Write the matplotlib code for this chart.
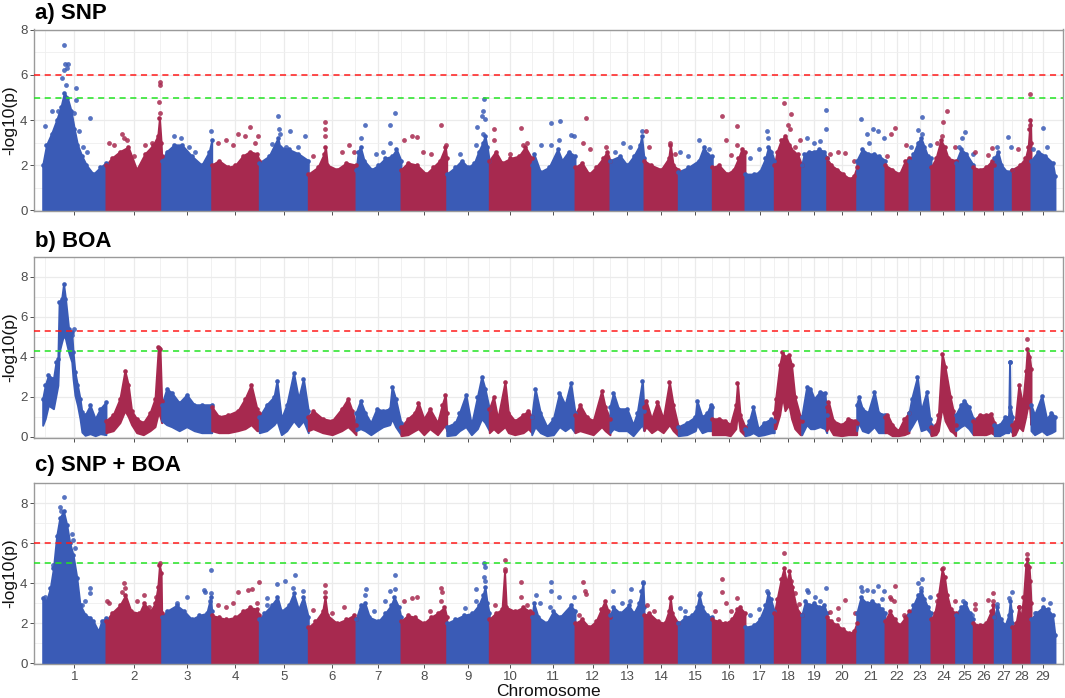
import numpy as np
import matplotlib
matplotlib.use("Agg")
import matplotlib.pyplot as plt

plt.rcParams['font.family'] = ['Liberation Sans', 'DejaVu Sans']

# chromosome lengths (Mb) as they appear on the x axis
chrom_len = [155.6, 137.0, 123.0, 117.0, 120.5, 117.3, 110.6, 112.4, 104.7, 104.3,
             106.5, 86.0, 83.6, 84.3, 83.6, 80.4, 72.0, 67.4, 61.5, 73.8,
             69.6, 59.0, 54.0, 60.7, 43.3, 51.6, 44.3, 46.0, 59.0]
chrom_names = [str(i) for i in range(1, 30)]

# --- a) SNP : upper edge of the dense cloud (chr, relative pos, -log10 p)
snp_top = [
    (1, 0.0, 2.0), (1, 0.06, 2.9), (1, 0.14, 3.4), (1, 0.22, 4.0), (1, 0.29, 4.6), (1, 0.34, 5.2),
    (1, 0.39, 5.0), (1, 0.45, 4.4), (1, 0.50, 3.6), (1, 0.55, 2.9), (1, 0.62, 2.4), (1, 0.69, 2.0),
    (1, 0.80, 1.6), (1, 0.91, 1.9), (1, 1.0, 2.1),
    (2, 0.0, 2.0), (2, 0.1, 2.3), (2, 0.25, 2.6), (2, 0.4, 2.8), (2, 0.55, 1.8), (2, 0.7, 2.5),
    (2, 0.85, 2.9), (2, 0.93, 3.3), (2, 0.96, 4.1), (2, 0.99, 3.0), (2, 1.0, 2.4),
    (3, 0.0, 2.2), (3, 0.1, 2.6), (3, 0.25, 2.9), (3, 0.4, 2.9), (3, 0.6, 2.4), (3, 0.8, 2.0),
    (3, 0.95, 2.6), (3, 1.0, 3.1),
    (4, 0.0, 2.0), (4, 0.15, 2.2), (4, 0.35, 1.9), (4, 0.5, 2.0), (4, 0.65, 2.4), (4, 0.8, 2.6),
    (4, 0.95, 2.5), (4, 1.0, 2.2),
    (5, 0.0, 2.1), (5, 0.2, 2.4), (5, 0.38, 3.2), (5, 0.42, 2.8), (5, 0.6, 2.7), (5, 0.8, 2.5),
    (5, 1.0, 2.2),
    (6, 0.0, 1.6), (6, 0.2, 1.9), (6, 0.33, 2.5), (6, 0.36, 2.8), (6, 0.4, 2.0), (6, 0.6, 1.8),
    (6, 0.8, 2.1), (6, 1.0, 2.0),
    (7, 0.0, 1.8), (7, 0.05, 2.6), (7, 0.1, 2.8), (7, 0.18, 2.2), (7, 0.35, 1.8), (7, 0.5, 2.0),
    (7, 0.65, 2.3), (7, 0.8, 2.4), (7, 0.9, 2.7), (7, 1.0, 2.2),
    (8, 0.0, 1.8), (8, 0.15, 2.1), (8, 0.35, 2.0), (8, 0.55, 1.6), (8, 0.7, 1.9), (8, 0.85, 2.2),
    (8, 0.97, 2.8), (8, 1.0, 2.3),
    (9, 0.0, 1.6), (9, 0.2, 1.9), (9, 0.35, 2.2), (9, 0.5, 1.9), (9, 0.65, 2.1), (9, 0.75, 2.6),
    (9, 0.85, 3.0), (9, 0.9, 3.3), (9, 0.95, 2.8), (9, 1.0, 2.2),
    (10, 0.0, 2.2), (10, 0.15, 2.6), (10, 0.3, 2.1), (10, 0.5, 2.3), (10, 0.7, 2.4), (10, 0.85, 2.8),
    (10, 1.0, 2.3),
    (11, 0.0, 2.0), (11, 0.05, 2.5), (11, 0.2, 1.7), (11, 0.4, 1.9), (11, 0.6, 2.7), (11, 0.7, 2.2),
    (11, 0.85, 2.6), (11, 1.0, 2.4),
    (12, 0.0, 1.9), (12, 0.2, 2.1), (12, 0.4, 1.6), (12, 0.6, 1.9), (12, 0.8, 2.3), (12, 0.92, 2.6),
    (12, 1.0, 2.2),
    (13, 0.0, 2.2), (13, 0.3, 2.4), (13, 0.5, 2.0), (13, 0.7, 2.4), (13, 0.88, 2.9), (13, 0.93, 3.3),
    (13, 1.0, 2.3),
    (14, 0.0, 2.2), (14, 0.2, 2.0), (14, 0.5, 1.8), (14, 0.72, 2.3), (14, 0.77, 2.9), (14, 0.85, 2.0),
    (14, 1.0, 1.8),
    (15, 0.0, 1.7), (15, 0.3, 1.9), (15, 0.6, 2.2), (15, 0.75, 2.8), (15, 0.85, 2.5), (15, 1.0, 2.4),
    (16, 0.0, 1.9), (16, 0.2, 2.0), (16, 0.45, 1.6), (16, 0.65, 1.8), (16, 0.8, 2.3), (16, 0.9, 2.7),
    (16, 1.0, 2.6),
    (17, 0.0, 1.6), (17, 0.3, 1.6), (17, 0.5, 1.7), (17, 0.7, 2.3), (17, 0.8, 2.8), (17, 0.9, 2.6),
    (17, 1.0, 2.2),
    (18, 0.0, 2.0), (18, 0.1, 2.6), (18, 0.25, 3.1), (18, 0.4, 3.3), (18, 0.55, 2.9), (18, 0.7, 2.6),
    (18, 0.85, 2.5), (18, 1.0, 2.0),
    (19, 0.0, 2.0), (19, 0.1, 2.5), (19, 0.3, 2.6), (19, 0.5, 2.6), (19, 0.7, 2.7), (19, 0.9, 2.6),
    (19, 1.0, 2.3),
    (20, 0.0, 2.3), (20, 0.15, 2.0), (20, 0.35, 1.8), (20, 0.55, 1.6), (20, 0.75, 1.4), (20, 0.9, 1.5),
    (20, 1.0, 1.9),
    (21, 0.0, 2.2), (21, 0.2, 2.7), (21, 0.4, 2.5), (21, 0.6, 2.5), (21, 0.8, 2.4), (21, 1.0, 2.2),
    (22, 0.0, 2.0), (22, 0.3, 1.8), (22, 0.6, 1.6), (22, 0.85, 2.2), (22, 1.0, 2.3),
    (23, 0.0, 2.2), (23, 0.2, 2.5), (23, 0.4, 3.0), (23, 0.55, 3.2), (23, 0.7, 2.8), (23, 0.85, 2.4),
    (23, 1.0, 2.3),
    (24, 0.0, 1.9), (24, 0.2, 2.3), (24, 0.4, 3.1), (24, 0.55, 2.8), (24, 0.7, 2.3), (24, 1.0, 2.2),
    (25, 0.0, 2.1), (25, 0.3, 2.7), (25, 0.6, 2.5), (25, 1.0, 2.0),
    (26, 0.0, 1.9), (26, 0.3, 1.8), (26, 0.6, 1.9), (26, 0.9, 2.2), (26, 1.0, 2.0),
    (27, 0.0, 2.3), (27, 0.2, 2.6), (27, 0.4, 2.0), (27, 0.7, 1.7), (27, 1.0, 1.8),
    (28, 0.0, 1.8), (28, 0.4, 2.0), (28, 0.7, 2.3), (28, 0.85, 2.8), (28, 0.92, 3.6), (28, 0.97, 4.0),
    (28, 1.0, 3.0),
    (29, 0.0, 2.2), (29, 0.3, 2.6), (29, 0.6, 2.4), (29, 0.9, 2.1), (29, 1.0, 1.5),
]

# single markers standing out above the cloud
snp_hits = [
    (1, 0.03, 3.75), (1, 0.14, 4.4), (1, 0.24, 4.4), (1, 0.33, 7.35), (1, 0.36, 6.5), (1, 0.40, 6.5),
    (1, 0.33, 6.2), (1, 0.38, 6.3), (1, 0.30, 5.85), (1, 0.37, 5.55), (1, 0.52, 5.4), (1, 0.52, 4.9),
    (1, 0.50, 4.3), (1, 0.75, 4.1), (1, 0.58, 3.5), (1, 0.63, 2.8), (1, 0.70, 2.6),
    (2, 0.06, 3.0), (2, 0.15, 2.9), (2, 0.28, 3.4), (2, 0.32, 3.2), (2, 0.38, 3.1), (2, 0.5, 2.4),
    (2, 0.7, 2.9), (2, 0.83, 3.0), (2, 0.97, 5.7), (2, 0.97, 5.55), (2, 0.96, 4.8), (2, 0.97, 4.3),
    (3, 0.24, 3.3), (3, 0.38, 3.2), (3, 0.55, 2.8), (3, 0.66, 2.6), (3, 0.99, 3.5),
    (4, 0.14, 3.0), (4, 0.3, 3.1), (4, 0.56, 3.4), (4, 0.8, 3.7), (4, 0.7, 3.3), (4, 0.97, 3.3),
    (4, 0.45, 2.9), (4, 0.9, 3.0),
    (5, 0.39, 4.2), (5, 0.41, 3.6), (5, 0.42, 3.4), (5, 0.63, 3.5), (5, 0.93, 3.3), (5, 0.25, 2.95),
    (5, 0.55, 2.8), (5, 0.78, 2.8),
    (6, 0.35, 3.9), (6, 0.35, 3.6), (6, 0.35, 3.3), (6, 0.1, 2.4), (6, 0.7, 2.6), (6, 0.85, 2.9),
    (6, 0.95, 2.6),
    (7, 0.1, 3.2), (7, 0.2, 3.8), (7, 0.76, 3.8), (7, 0.87, 4.3), (7, 0.76, 3.0), (7, 0.6, 2.6),
    (7, 0.45, 2.5),
    (8, 0.07, 3.1), (8, 0.24, 3.3), (8, 0.35, 3.25), (8, 0.87, 3.8), (8, 0.49, 2.6), (8, 0.65, 2.5),
    (8, 0.98, 2.9),
    (9, 0.88, 4.95), (9, 0.86, 4.4), (9, 0.82, 4.2), (9, 0.9, 4.05), (9, 0.86, 3.4), (9, 0.7, 3.7),
    (9, 0.69, 2.9), (9, 0.31, 2.5),
    (10, 0.12, 3.6), (10, 0.75, 3.65), (10, 0.1, 3.1), (10, 0.9, 3.0), (10, 0.8, 2.9), (10, 0.5, 2.5),
    (11, 0.45, 3.85), (11, 0.65, 3.95), (11, 0.64, 3.1), (11, 0.9, 3.35), (11, 0.98, 3.3),
    (11, 0.22, 2.9), (11, 0.45, 2.9),
    (12, 0.3, 4.1), (12, 0.24, 3.0), (12, 0.43, 2.7), (12, 0.88, 2.8),
    (13, 0.95, 3.5), (13, 0.37, 3.0), (13, 0.6, 2.8), (13, 0.15, 2.6),
    (14, 0.06, 3.5), (14, 0.76, 3.0), (14, 0.15, 2.8), (14, 0.9, 2.5),
    (15, 0.62, 3.1), (15, 0.05, 2.6), (15, 0.3, 2.4), (15, 0.9, 2.7),
    (16, 0.31, 4.2), (16, 0.41, 3.1), (16, 0.77, 3.75), (16, 0.77, 2.9), (16, 0.57, 2.45),
    (17, 0.76, 3.5), (17, 0.77, 3.2), (17, 0.48, 2.7), (17, 0.17, 2.3),
    (18, 0.34, 4.75), (18, 0.6, 4.25), (18, 0.49, 3.8), (18, 0.57, 3.6), (18, 0.39, 3.1),
    (18, 0.94, 3.1), (18, 0.75, 2.8),
    (19, 0.97, 4.45), (19, 0.99, 3.6), (19, 0.2, 3.2), (19, 0.5, 3.0), (19, 0.75, 3.05),
    (20, 0.37, 2.6), (20, 0.6, 2.55), (20, 0.1, 2.5), (20, 0.9, 2.2),
    (21, 0.15, 4.05), (21, 0.38, 3.4), (21, 0.59, 3.6), (21, 0.75, 3.5), (21, 0.95, 3.2), (21, 0.45, 3.0),
    (22, 0.4, 3.63), (22, 0.25, 3.4), (22, 0.1, 2.4), (22, 0.88, 2.9),
    (23, 0.57, 4.15), (23, 0.42, 3.55), (23, 0.58, 3.4), (23, 0.95, 2.9), (23, 0.1, 2.8),
    (24, 0.64, 4.4), (24, 0.5, 3.9), (24, 0.43, 3.3), (24, 0.23, 3.0), (24, 0.97, 2.8),
    (25, 0.53, 3.45), (25, 0.34, 3.2), (25, 0.19, 2.8), (25, 0.96, 2.5),
    (26, 0.08, 2.6), (26, 0.72, 2.45), (26, 0.9, 2.75),
    (27, 0.78, 3.25), (27, 0.14, 2.8), (27, 0.95, 2.8),
    (28, 0.96, 5.15), (28, 0.33, 2.7), (28, 0.96, 3.8),
    (29, 0.52, 3.65), (29, 0.65, 2.8), (29, 0.1, 2.7),
]

# --- b) BOA : lower and upper edge of the cloud (chr, relative pos, low, high)
boa_band = [
    (1, 0.0, 0.57, 1.9), (1, 0.04, 0.9, 2.57), (1, 0.09, 1.57, 3.07), (1, 0.17, 1.4, 2.9),
    (1, 0.21, 2.07, 3.73), (1, 0.24, 2.57, 3.9), (1, 0.26, 4.23, 6.73), (1, 0.30, 4.73, 6.9),
    (1, 0.33, 5.07, 7.65), (1, 0.36, 4.9, 6.9), (1, 0.41, 4.23, 5.4), (1, 0.46, 3.73, 5.23),
    (1, 0.48, 2.9, 4.23), (1, 0.51, 2.07, 3.23), (1, 0.55, 1.57, 2.57), (1, 0.59, 0.9, 1.9),
    (1, 0.62, 0.23, 1.23), (1, 0.67, 0.07, 1.07), (1, 0.75, 0.15, 1.57), (1, 0.83, 0.05, 0.9),
    (1, 0.91, 0.15, 1.4), (1, 1.0, 0.1, 1.73),
    (2, 0.0, 0.2, 0.8), (2, 0.13, 0.3, 1.1), (2, 0.25, 0.7, 1.9), (2, 0.34, 1.3, 3.3), (2, 0.4, 1.0, 2.6),
    (2, 0.46, 0.6, 1.3), (2, 0.55, 0.2, 0.9), (2, 0.67, 0.1, 0.7), (2, 0.79, 0.3, 1.2), (2, 0.88, 0.5, 1.9),
    (2, 0.94, 1.2, 4.5), (2, 0.97, 1.0, 4.4), (2, 1.0, 0.7, 1.8),
    (3, 0.0, 0.8, 1.6), (3, 0.1, 0.6, 2.4), (3, 0.2, 0.5, 2.2), (3, 0.35, 0.3, 1.7), (3, 0.5, 0.5, 2.1),
    (3, 0.65, 0.3, 1.6), (3, 0.8, 0.2, 1.6), (3, 1.0, 0.2, 1.6),
    (4, 0.0, 0.3, 1.5), (4, 0.15, 0.2, 1.0), (4, 0.35, 0.2, 1.1), (4, 0.55, 0.3, 1.3), (4, 0.7, 0.4, 1.9),
    (4, 0.83, 0.6, 2.6), (4, 0.95, 0.3, 1.4), (4, 1.0, 0.3, 1.2),
    (5, 0.0, 0.2, 1.0), (5, 0.15, 0.3, 1.6), (5, 0.3, 0.6, 2.0), (5, 0.36, 0.8, 2.8), (5, 0.45, 0.1, 0.9),
    (5, 0.56, 0.3, 1.6), (5, 0.7, 0.8, 3.2), (5, 0.8, 0.5, 1.9), (5, 0.9, 0.8, 2.9), (5, 1.0, 0.2, 1.3),
    (6, 0.0, 0.3, 1.0), (6, 0.1, 0.4, 1.3), (6, 0.3, 0.2, 0.9), (6, 0.5, 0.1, 0.8), (6, 0.7, 0.3, 1.4),
    (6, 0.83, 0.5, 1.9), (6, 0.92, 0.3, 1.3), (6, 1.0, 0.1, 0.6),
    (7, 0.0, 0.3, 1.2), (7, 0.1, 0.4, 1.8), (7, 0.2, 0.3, 1.2), (7, 0.33, 0.1, 0.7), (7, 0.46, 0.3, 1.4),
    (7, 0.6, 0.5, 1.3), (7, 0.75, 0.6, 1.4), (7, 0.8, 0.9, 2.5), (7, 0.88, 0.5, 1.9), (7, 1.0, 0.1, 0.7),
    (8, 0.0, 0.05, 0.5), (8, 0.15, 0.1, 0.9), (8, 0.3, 0.3, 1.2), (8, 0.38, 0.4, 1.7), (8, 0.5, 0.1, 0.9),
    (8, 0.63, 0.4, 1.4), (8, 0.8, 0.1, 0.7), (8, 0.9, 0.4, 1.6), (8, 0.97, 0.6, 2.1), (8, 1.0, 0.3, 1.2),
    (9, 0.0, 0.05, 0.5), (9, 0.2, 0.1, 0.7), (9, 0.3, 0.3, 1.2), (9, 0.45, 0.5, 2.1), (9, 0.58, 0.1, 0.6),
    (9, 0.72, 0.4, 2.0), (9, 0.82, 0.9, 3.0), (9, 0.9, 0.7, 2.4), (9, 1.0, 0.3, 1.4),
    (10, 0.0, 0.2, 1.4), (10, 0.1, 0.4, 2.0), (10, 0.2, 0.2, 0.9), (10, 0.37, 0.5, 2.75), (10, 0.45, 0.2, 1.2),
    (10, 0.6, 0.1, 0.8), (10, 0.8, 0.2, 1.1), (10, 0.92, 0.4, 1.3), (10, 1.0, 0.2, 1.0),
    (11, 0.0, 0.1, 1.0), (11, 0.08, 0.5, 2.4), (11, 0.2, 0.2, 1.2), (11, 0.35, 0.05, 0.5), (11, 0.5, 0.1, 0.9),
    (11, 0.64, 0.5, 2.2), (11, 0.77, 0.3, 1.6), (11, 0.9, 0.5, 2.7), (11, 1.0, 0.2, 1.2),
    (12, 0.0, 0.2, 1.1), (12, 0.14, 0.3, 1.6), (12, 0.33, 0.2, 1.0), (12, 0.52, 0.1, 0.8), (12, 0.76, 0.5, 2.3),
    (12, 0.86, 0.3, 1.5), (12, 1.0, 0.1, 0.9),
    (13, 0.0, 0.2, 1.5), (13, 0.1, 0.4, 2.2), (13, 0.25, 0.3, 1.4), (13, 0.5, 0.3, 1.4), (13, 0.68, 0.05, 0.6),
    (13, 0.8, 0.3, 1.2), (13, 0.95, 0.6, 2.8), (13, 1.0, 0.3, 1.3),
    (14, 0.0, 0.3, 1.5), (14, 0.06, 0.5, 1.8), (14, 0.22, 0.2, 0.9), (14, 0.39, 0.4, 1.75), (14, 0.56, 0.2, 0.9),
    (14, 0.74, 0.6, 2.75), (14, 0.85, 0.3, 1.6), (14, 1.0, 0.05, 0.5),
    (15, 0.0, 0.05, 0.5), (15, 0.25, 0.1, 0.7), (15, 0.5, 0.3, 1.0), (15, 0.55, 0.6, 1.8), (15, 0.7, 0.2, 1.0),
    (15, 0.85, 0.3, 1.2), (15, 0.95, 0.3, 1.6), (15, 1.0, 0.3, 1.5),
    (16, 0.0, 0.1, 0.9), (16, 0.2, 0.1, 0.9), (16, 0.4, 0.1, 0.8), (16, 0.55, 0.05, 0.6), (16, 0.72, 0.4, 1.6),
    (16, 0.77, 1.2, 2.7), (16, 0.85, 0.3, 1.1), (16, 1.0, 0.05, 0.5),
    (17, 0.0, 0.05, 0.4), (17, 0.15, 0.1, 0.8), (17, 0.28, 0.2, 1.5), (17, 0.45, 0.05, 0.4), (17, 0.65, 0.1, 0.7),
    (17, 0.9, 0.2, 0.9), (17, 1.0, 0.2, 0.8),
    (18, 0.0, 0.4, 1.2), (18, 0.05, 0.4, 1.9), (18, 0.2, 1.1, 3.6), (18, 0.3, 2.0, 4.25), (18, 0.39, 1.3, 4.0),
    (18, 0.53, 1.6, 4.1), (18, 0.63, 0.9, 3.6), (18, 0.75, 0.4, 2.0), (18, 0.95, 0.1, 1.0), (18, 1.0, 0.1, 0.8),
    (19, 0.0, 0.1, 1.0), (19, 0.2, 0.6, 2.5), (19, 0.35, 0.4, 2.4), (19, 0.5, 0.4, 1.9), (19, 0.73, 0.5, 2.25),
    (19, 0.93, 0.4, 2.2), (19, 1.0, 0.2, 1.1),
    (20, 0.0, 0.3, 1.5), (20, 0.06, 0.5, 1.75), (20, 0.22, 0.1, 0.8), (20, 0.5, 0.05, 0.6), (20, 0.72, 0.1, 0.9),
    (20, 0.95, 0.1, 0.8), (20, 1.0, 0.1, 0.7),
    (21, 0.0, 0.3, 1.6), (21, 0.07, 0.7, 2.0), (21, 0.2, 0.3, 1.4), (21, 0.4, 0.2, 1.2), (21, 0.62, 0.5, 2.25),
    (21, 0.77, 0.2, 1.2), (21, 1.0, 0.2, 1.1),
    (22, 0.0, 0.2, 1.0), (22, 0.1, 0.2, 1.1), (22, 0.3, 0.05, 0.6), (22, 0.55, 0.05, 0.3), (22, 0.8, 0.1, 0.9),
    (22, 1.0, 0.2, 1.2),
    (23, 0.0, 0.3, 1.2), (23, 0.12, 0.5, 1.9), (23, 0.38, 1.0, 3.0), (23, 0.55, 0.3, 1.3), (23, 0.8, 0.4, 2.25),
    (23, 0.95, 0.2, 0.9), (23, 1.0, 0.1, 0.6),
    (24, 0.0, 0.05, 0.5), (24, 0.2, 0.1, 0.6), (24, 0.3, 0.3, 1.1), (24, 0.45, 1.5, 4.15), (24, 0.57, 0.8, 3.5),
    (24, 0.78, 0.3, 2.0), (24, 0.9, 0.2, 1.3), (24, 1.0, 0.05, 0.6),
    (25, 0.0, 0.3, 1.1), (25, 0.3, 0.5, 1.6), (25, 0.5, 0.6, 1.8), (25, 0.75, 0.4, 1.5), (25, 1.0, 0.1, 0.9),
    (26, 0.0, 0.1, 0.8), (26, 0.3, 0.1, 1.1), (26, 0.6, 0.1, 1.1), (26, 0.85, 0.2, 1.15), (26, 1.0, 0.1, 0.7),
    (27, 0.0, 0.05, 0.6), (27, 0.3, 0.05, 0.6), (27, 0.6, 0.2, 1.0), (27, 0.8, 0.2, 1.0), (27, 0.85, 1.4, 3.75),
    (27, 0.88, 0.3, 1.5), (27, 1.0, 0.2, 1.0),
    (28, 0.0, 0.05, 0.6), (28, 0.15, 0.1, 0.75), (28, 0.35, 0.5, 2.6), (28, 0.55, 0.3, 1.6), (28, 0.72, 1.0, 3.3),
    (28, 0.8, 1.4, 4.4), (28, 0.92, 1.5, 4.0), (28, 1.0, 0.6, 3.4),
    (29, 0.0, 0.3, 1.6), (29, 0.15, 0.1, 1.1), (29, 0.45, 0.3, 2.05), (29, 0.65, 0.1, 0.9), (29, 0.85, 0.2, 1.2),
    (29, 1.0, 0.3, 1.0),
]
boa_hits = [(1, 0.49, 5.4), (1, 0.47, 5.1), (2, 0.95, 4.45), (27, 0.86, 3.75), (28, 0.77, 4.88)]

# --- c) SNP + BOA
comb_top = [
    (1, 0.0, 3.27), (1, 0.06, 3.1), (1, 0.12, 3.77), (1, 0.17, 4.77), (1, 0.22, 6.35), (1, 0.27, 7.27),
    (1, 0.33, 7.6), (1, 0.38, 6.93), (1, 0.43, 6.0), (1, 0.48, 5.43), (1, 0.54, 4.27), (1, 0.59, 2.93),
    (1, 0.67, 2.43), (1, 0.75, 2.27), (1, 0.80, 2.1), (1, 0.88, 1.6), (1, 0.93, 2.1), (1, 1.0, 2.27),
    (2, 0.0, 2.1), (2, 0.1, 2.5), (2, 0.25, 2.9), (2, 0.35, 3.4), (2, 0.45, 2.6), (2, 0.6, 2.5),
    (2, 0.68, 3.0), (2, 0.8, 2.6), (2, 0.88, 3.0), (2, 0.93, 3.8), (2, 0.96, 4.9), (2, 0.99, 4.5),
    (2, 1.0, 2.5),
    (3, 0.0, 2.3), (3, 0.1, 2.6), (3, 0.3, 2.9), (3, 0.45, 2.6), (3, 0.6, 2.2), (3, 0.75, 2.4),
    (3, 0.9, 2.5), (3, 0.98, 3.3), (3, 1.0, 2.6),
    (4, 0.0, 2.4), (4, 0.15, 2.3), (4, 0.3, 2.2), (4, 0.5, 2.3), (4, 0.65, 2.6), (4, 0.8, 2.8),
    (4, 0.95, 2.7), (4, 1.0, 2.4),
    (5, 0.0, 2.2), (5, 0.1, 2.5), (5, 0.25, 2.9), (5, 0.37, 3.3), (5, 0.45, 2.6), (5, 0.6, 2.9),
    (5, 0.7, 3.5), (5, 0.8, 2.7), (5, 0.9, 3.3), (5, 1.0, 2.3),
    (6, 0.0, 1.8), (6, 0.15, 2.1), (6, 0.3, 2.6), (6, 0.35, 3.3), (6, 0.4, 2.4), (6, 0.6, 2.0),
    (6, 0.8, 2.2), (6, 0.95, 2.4), (6, 1.0, 2.2),
    (7, 0.0, 2.2), (7, 0.1, 2.9), (7, 0.2, 3.0), (7, 0.3, 2.3), (7, 0.5, 2.1), (7, 0.65, 2.5),
    (7, 0.78, 2.9), (7, 0.85, 3.3), (7, 0.95, 2.8), (7, 1.0, 2.3),
    (8, 0.0, 2.1), (8, 0.15, 2.4), (8, 0.3, 2.3), (8, 0.5, 2.0), (8, 0.65, 2.3), (8, 0.8, 2.5),
    (8, 0.95, 2.8), (8, 1.0, 2.3),
    (9, 0.0, 2.0), (9, 0.2, 2.2), (9, 0.4, 2.4), (9, 0.6, 2.5), (9, 0.75, 2.9), (9, 0.85, 3.4),
    (9, 0.9, 3.8), (9, 0.95, 3.0), (9, 1.0, 2.5),
    (10, 0.0, 2.2), (10, 0.15, 2.5), (10, 0.3, 2.7), (10, 0.36, 4.6), (10, 0.4, 2.8), (10, 0.6, 2.6),
    (10, 0.8, 2.8), (10, 0.95, 2.6), (10, 1.0, 2.5),
    (11, 0.0, 2.3), (11, 0.05, 3.0), (11, 0.15, 2.3), (11, 0.35, 2.0), (11, 0.5, 2.6), (11, 0.65, 2.3),
    (11, 0.9, 2.9), (11, 1.0, 2.6),
    (12, 0.0, 2.0), (12, 0.2, 2.2), (12, 0.4, 1.8), (12, 0.6, 2.1), (12, 0.75, 2.7), (12, 0.85, 3.1),
    (12, 0.95, 2.6), (12, 1.0, 2.3),
    (13, 0.0, 2.4), (13, 0.1, 2.8), (13, 0.3, 2.5), (13, 0.55, 2.9), (13, 0.7, 2.5), (13, 0.85, 3.0),
    (13, 0.92, 3.6), (13, 0.97, 4.0), (13, 1.0, 2.8),
    (14, 0.0, 2.4), (14, 0.15, 2.5), (14, 0.4, 2.1), (14, 0.6, 2.0), (14, 0.72, 2.6), (14, 0.77, 3.25),
    (14, 0.82, 2.5), (14, 1.0, 2.0),
    (15, 0.0, 2.0), (15, 0.2, 2.3), (15, 0.4, 2.4), (15, 0.55, 2.8), (15, 0.62, 3.4), (15, 0.7, 2.8),
    (15, 0.85, 2.4), (15, 1.0, 2.3),
    (16, 0.0, 2.2), (16, 0.2, 2.1), (16, 0.4, 2.0), (16, 0.6, 2.2), (16, 0.75, 2.7), (16, 0.85, 2.8),
    (16, 1.0, 2.5),
    (17, 0.0, 1.8), (17, 0.3, 1.9), (17, 0.5, 2.2), (17, 0.7, 2.9), (17, 0.78, 3.5), (17, 0.88, 3.2),
    (17, 1.0, 2.6),
    (18, 0.0, 2.5), (18, 0.1, 3.2), (18, 0.25, 4.2), (18, 0.35, 4.75), (18, 0.45, 4.0), (18, 0.55, 4.6),
    (18, 0.65, 3.8), (18, 0.8, 2.8), (18, 1.0, 2.4),
    (19, 0.0, 2.4), (19, 0.15, 3.1), (19, 0.3, 2.9), (19, 0.5, 3.0), (19, 0.7, 2.8), (19, 0.9, 2.9),
    (19, 1.0, 2.5),
    (20, 0.0, 2.3), (20, 0.15, 2.1), (20, 0.35, 1.9), (20, 0.55, 1.7), (20, 0.75, 1.5), (20, 0.9, 1.6),
    (20, 1.0, 2.0),
    (21, 0.0, 2.5), (21, 0.15, 3.3), (21, 0.35, 3.0), (21, 0.55, 3.1), (21, 0.75, 2.9), (21, 0.9, 2.7),
    (21, 1.0, 2.5),
    (22, 0.0, 2.1), (22, 0.2, 2.6), (22, 0.4, 2.2), (22, 0.6, 1.9), (22, 0.85, 2.3), (22, 1.0, 2.6),
    (23, 0.0, 2.4), (23, 0.2, 2.9), (23, 0.4, 3.4), (23, 0.55, 3.6), (23, 0.7, 3.2), (23, 0.85, 2.8),
    (23, 1.0, 2.5),
    (24, 0.0, 2.2), (24, 0.15, 2.5), (24, 0.3, 3.4), (24, 0.45, 4.7), (24, 0.55, 4.3), (24, 0.65, 3.4),
    (24, 0.8, 2.7), (24, 1.0, 2.5),
    (25, 0.0, 2.4), (25, 0.3, 2.8), (25, 0.55, 3.0), (25, 0.8, 2.5), (25, 1.0, 2.2),
    (26, 0.0, 2.0), (26, 0.3, 1.9), (26, 0.6, 2.0), (26, 0.85, 2.6), (26, 0.95, 2.9), (26, 1.0, 2.3),
    (27, 0.0, 2.3), (27, 0.15, 2.8), (27, 0.35, 2.2), (27, 0.6, 1.9), (27, 0.8, 2.4), (27, 0.88, 3.1),
    (27, 0.95, 2.6), (27, 1.0, 2.0),
    (28, 0.0, 1.8), (28, 0.2, 2.0), (28, 0.35, 2.8), (28, 0.45, 2.2), (28, 0.6, 3.3), (28, 0.72, 4.9),
    (28, 0.8, 5.2), (28, 0.9, 4.8), (28, 0.95, 4.1), (28, 1.0, 3.0),
    (29, 0.0, 2.2), (29, 0.2, 2.5), (29, 0.5, 2.8), (29, 0.7, 2.7), (29, 0.9, 2.4), (29, 1.0, 1.4),
]
comb_hits = [
    (1, 0.34, 8.3), (1, 0.27, 7.8), (1, 0.29, 7.6), (1, 0.46, 6.47), (1, 0.48, 6.18), (1, 0.51, 5.77),
    (1, 0.75, 3.77), (1, 0.75, 3.5), (1, 0.67, 3.1), (1, 0.62, 2.9), (1, 0.04, 3.3), (1, 0.17, 4.9),
    (2, 0.02, 3.1), (2, 0.05, 3.0), (2, 0.33, 4.0), (2, 0.28, 3.55), (2, 0.35, 3.75), (2, 0.55, 3.1),
    (2, 0.68, 3.4), (2, 0.78, 2.8), (2, 0.9, 3.3), (2, 0.97, 5.0),
    (3, 0.3, 3.0), (3, 0.5, 3.3), (3, 0.85, 3.67), (3, 0.87, 3.55), (3, 0.99, 4.65), (3, 0.99, 3.5),
    (3, 0.97, 3.1),
    (4, 0.13, 2.9), (4, 0.3, 2.8), (4, 0.56, 3.55), (4, 0.77, 3.65), (4, 0.84, 3.7), (4, 0.99, 4.05),
    (4, 0.95, 3.0), (4, 0.45, 3.0),
    (5, 0.37, 3.95), (5, 0.52, 4.1), (5, 0.73, 4.4), (5, 0.69, 3.75), (5, 0.9, 3.6), (5, 0.16, 3.25),
    (5, 0.15, 2.9),
    (6, 0.35, 3.9), (6, 0.36, 3.55), (6, 0.1, 2.65), (6, 0.75, 2.8), (6, 0.5, 2.5),
    (7, 0.22, 3.7), (7, 0.2, 3.4), (7, 0.87, 4.4), (7, 0.76, 3.6), (7, 0.87, 3.7), (7, 0.65, 3.1),
    (7, 0.39, 2.6),
    (8, 0.07, 3.1), (8, 0.24, 3.25), (8, 0.35, 3.3), (8, 0.87, 3.75), (8, 0.89, 3.55), (8, 0.87, 3.1),
    (8, 0.63, 2.6),
    (9, 0.88, 5.0), (9, 0.89, 4.8), (9, 0.88, 4.3), (9, 0.9, 4.1), (9, 0.69, 3.7), (9, 0.69, 3.1),
    (9, 0.43, 2.75),
    (10, 0.37, 5.15), (10, 0.37, 4.7), (10, 0.75, 4.08), (10, 0.74, 3.3), (10, 0.13, 2.9), (10, 0.9, 2.9),
    (11, 0.45, 4.08), (11, 0.1, 3.4), (11, 0.45, 3.6), (11, 0.64, 3.3), (11, 0.2, 3.0), (11, 0.42, 2.8),
    (11, 0.98, 3.3),
    (12, 0.24, 4.08), (12, 0.29, 3.6), (12, 0.31, 3.45), (12, 0.12, 2.4),
    (13, 0.08, 3.6), (13, 0.61, 3.7), (13, 0.35, 3.0), (13, 0.6, 3.1), (13, 0.97, 4.08),
    (14, 0.1, 2.9), (14, 0.3, 2.6), (14, 0.78, 3.3),
    (15, 0.05, 2.75), (15, 0.63, 3.5), (15, 0.2, 2.6),
    (16, 0.31, 4.2), (16, 0.31, 3.55), (16, 0.41, 3.0), (16, 0.77, 3.25), (16, 0.57, 2.6), (16, 0.08, 2.6),
    (17, 0.48, 2.7), (17, 0.17, 2.4), (17, 0.76, 3.6),
    (18, 0.35, 5.53), (18, 0.6, 4.1), (18, 0.75, 3.5), (18, 0.92, 2.97),
    (19, 0.2, 3.67), (19, 0.27, 3.55), (19, 0.96, 3.75), (19, 0.73, 3.1), (19, 0.53, 3.3),
    (20, 0.37, 2.75), (20, 0.61, 3.15), (20, 0.11, 2.55), (20, 0.39, 2.2), (20, 0.95, 2.5),
    (21, 0.15, 3.83), (21, 0.18, 3.6), (21, 0.38, 3.67), (21, 0.76, 3.85), (21, 0.59, 3.6),
    (21, 0.97, 3.6), (21, 0.88, 3.2),
    (22, 0.42, 3.85), (22, 0.21, 3.3), (22, 0.25, 3.2), (22, 0.39, 3.1), (22, 0.8, 2.4),
    (23, 0.58, 4.2), (23, 0.42, 4.0), (23, 0.55, 3.75), (23, 0.95, 3.3),
    (24, 0.23, 3.1), (24, 0.97, 3.1), (24, 0.6, 3.0), (24, 0.47, 4.78),
    (25, 0.43, 3.1), (25, 0.53, 3.0), (25, 0.9, 2.4),
    (26, 0.08, 2.95), (26, 0.08, 2.7), (26, 0.71, 3.17), (26, 0.95, 3.5), (26, 0.95, 3.1),
    (27, 0.13, 2.95), (27, 0.96, 3.55), (27, 0.81, 3.25),
    (28, 0.77, 5.45), (28, 0.36, 2.83),
    (29, 0.51, 3.2), (29, 0.79, 3.0), (29, 0.17, 2.5),
]

thresholds = {'a': (6.0, 5.0), 'b': (5.3, 4.3), 'c': (6.0, 5.0)}

blue = '#3A5BB6'
red = '#A7294F'
cols = [blue, red]

starts = np.concatenate([[0], np.cumsum(chrom_len)[:-1]])
centers = starts + np.array(chrom_len) / 2
total = sum(chrom_len)


def draw_cloud(ax, band, hits):
    for c in range(1, 30):
        rows = [r for r in band if r[0] == c]
        f = np.array([r[1] for r in rows])
        x = starts[c - 1] + f * chrom_len[c - 1]
        if len(rows[0]) == 4:
            low = np.array([r[2] for r in rows])
            high = np.array([r[3] for r in rows])
        else:
            low = np.zeros(len(rows))
            high = np.array([r[2] for r in rows])
        col = cols[(c - 1) % 2]
        ax.fill_between(x, low, high, facecolor=col, edgecolor=col, lw=1.4, zorder=2)
        ax.scatter(x, high, s=11, color=col, lw=0, zorder=3)
        hs = [h for h in hits if h[0] == c]
        if hs:
            hx = starts[c - 1] + np.array([h[1] for h in hs]) * chrom_len[c - 1]
            hy = [h[2] for h in hs]
            ax.scatter(hx, hy, s=12, color=col, alpha=0.85, lw=0, zorder=3)


fig = plt.figure(figsize=(10.65, 6.98), dpi=100)

W, H = 1065, 698
panels = [
    ('a) SNP', snp_top, snp_hits, 'a', 29.5, 211.0, (-0.04, 8.02), 18.5),
    ('b) BOA', boa_band, boa_hits, 'b', 256.7, 437.5, (-0.04, 9.0), 247.0),
    ('c) SNP + BOA', comb_top, comb_hits, 'c', 483.3, 664.0, (-0.035, 9.0), 470.5),
]

minor_x = list((centers[:-1] + centers[1:]) / 2)
minor_x = [centers[0] - (centers[1] - centers[0]) / 2] + minor_x

for title, band, hits, key, top_px, bot_px, ylim, title_px in panels:
    ax = fig.add_axes([34.3 / W, 1 - bot_px / H, (1062.7 - 34.3) / W, (bot_px - top_px) / H])
    draw_cloud(ax, band, hits)
    red_t, green_t = thresholds[key]
    ax.axhline(red_t, color='#FF1a1a', lw=1.1, dashes=(4, 3), zorder=4)
    ax.axhline(green_t, color='#22E322', lw=1.1, dashes=(4, 3), zorder=4)

    ax.set_xlim(-20.6, total + 19)
    ax.set_ylim(*ylim)
    ax.set_xticks(centers)
    ax.set_xticks(minor_x, minor=True)
    ax.set_yticks([0, 2, 4, 6, 8])
    ax.set_yticks([1, 3, 5, 7], minor=True)
    ax.grid(which='major', color='#EBEBEB', lw=0.9, zorder=0)
    ax.grid(which='minor', color='#EFEFEF', lw=0.6, zorder=0)
    ax.set_axisbelow(True)
    ax.tick_params(which='major', length=2.75, width=0.6, color='#333333',
                   labelsize=9.5, labelcolor='#4D4D4D', pad=2.2)
    ax.tick_params(which='minor', length=0)
    if key == 'c':
        ax.set_xticklabels(chrom_names)
    else:
        ax.set_xticklabels([])
    for s in ax.spines.values():
        s.set_color('#9A9A9A')
        s.set_linewidth(1.0)
    fig.text(35 / W, 1 - title_px / H, title, fontsize=16, fontweight='bold',
             ha='left', va='baseline')
    fig.text(10 / W, 1 - (top_px + bot_px) / 2 / H, '-log10(p)', rotation=90,
             fontsize=12.5, ha='center', va='center', color='#111111')

fig.text(548.5 / W, 1 - 696 / H, 'Chromosome', fontsize=12.5, ha='center', va='baseline',
         color='#111111')

fig.savefig('out.png', dpi=100)
